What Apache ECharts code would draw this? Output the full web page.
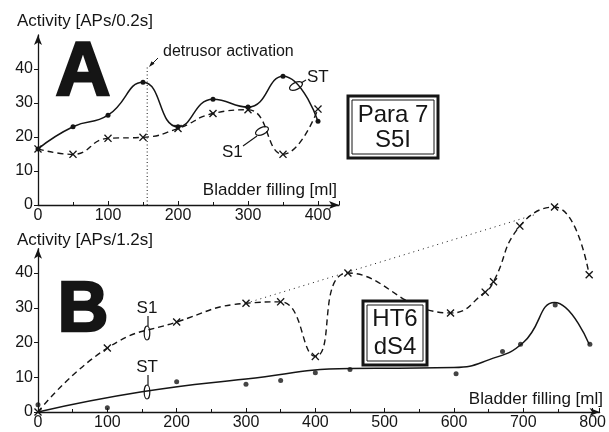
<!DOCTYPE html>
<html><head><meta charset="utf-8">
<script src="https://cdn.jsdelivr.net/npm/echarts@6/dist/echarts.min.js"></script>
<style>html,body{margin:0;padding:0;background:#fff}#c{width:609px;height:432px}</style>
</head><body><div id="c"></div>
<script>
// ---- Panel A data ----
var aFill = [0, 50, 100, 150, 200, 250, 300, 350, 400];
var aST   = [16.5, 23.0, 26.4, 36.1, 23.0, 31.1, 28.8, 37.9, 24.6];
var aS1   = [16.5, 14.9, 19.6, 19.9, 22.5, 26.9, 28.0, 14.9, 28.2];
var aDetrusorX = 156;
var aDetrusorTop = 41;
// ---- Panel B data ----
var bS1Fill = [0, 100, 200, 300, 350, 400, 447, 595, 645, 657, 695, 745, 795];
var bS1     = [0, 18.4, 25.9, 31.3, 31.7, 16.0, 40.0, 28.5, 34.5, 37.5, 53.5, 59.0, 39.5];
var bSTFill = [0, 100, 200, 300, 350, 400, 450, 603, 670, 696, 746, 796];
var bST     = [2.1, 1.2, 8.7, 8.0, 9.1, 11.3, 12.2, 11.0, 17.4, 19.5, 30.8, 19.5];
var bSTFitFill = [0, 150, 300, 450, 520, 600, 650, 700, 745, 795];
var bSTFit     = [0, 5.8, 9.5, 12.5, 12.6, 12.8, 15.0, 20.0, 31.5, 19.5];
var bTrendFill = [300, 720];
var bTrend     = [31.3, 57.0];
var xTicksA = [0, 100, 200, 300, 400];
var xTicksB = [0, 100, 200, 300, 400, 500, 600, 700, 800];
var yTicks = [0, 10, 20, 30, 40];

function pairs(xs, ys){ return xs.map(function(x,i){ return [x, ys[i]]; }); }

var INK = '#151515';
var FONT = 'Liberation Sans';
var cross = 'path://M0,1.2 L1.2,0 L5,3.8 L8.8,0 L10,1.2 L6.2,5 L10,8.8 L8.8,10 L5,6.2 L1.2,10 L0,8.8 L3.8,5Z';

function xAxisCfg(grid, max){
  return {
    type:'value', gridIndex:grid, min:0, max:max, interval:100,
    axisLine:{show:true, lineStyle:{color:INK, width:1.3}, symbol:['none','arrow'], symbolSize:[6,10]},
    axisTick:{show:true, inside:true, length:4, lineStyle:{color:INK}},
    minorTick:{show:true, splitNumber:2, length:3, lineStyle:{color:INK}},
    axisLabel:{color:INK, fontSize:16, fontFamily:FONT, margin:3, showMaxLabel:false,
      formatter:function(v){ return v % 100 === 0 ? String(v) : ''; }},
    splitLine:{show:false}
  };
}
function yAxisCfg(grid, max){
  return {
    type:'value', gridIndex:grid, min:0, max:max, interval:10,
    axisLine:{show:true, lineStyle:{color:INK, width:1.3}, symbol:['none','arrow'], symbolSize:[6,10]},
    axisTick:{show:true, length:4, lineStyle:{color:INK}},
    axisLabel:{color:INK, fontSize:16, fontFamily:FONT, margin:5, showMaxLabel:false,
      formatter:function(v){ return yTicks.indexOf(v) >= 0 ? String(v) : ''; }},
    splitLine:{show:false}
  };
}

var chart = echarts.init(document.getElementById('c'), null, {renderer:'canvas'});

function txt(x, y, s, size, opts){
  opts = opts || {};
  var st = {text:s, fill:INK, fontSize:size,
    fontFamily:opts.family || FONT, fontWeight:opts.weight || 'normal',
    align:opts.align || 'left', verticalAlign:opts.va || 'middle'};
  if (opts.stroke) { st.stroke = INK; st.lineWidth = opts.stroke; }
  return {type:'text', x:x, y:y, z:50, style:st};
}
function ln(x1,y1,x2,y2,w,dash){
  return {type:'line', z:50, shape:{x1:x1,y1:y1,x2:x2,y2:y2}, style:{stroke:INK, lineWidth:w||1, lineDash:dash||null}};
}
function ell(cx,cy,rx,ry,rot){
  return {type:'ellipse', z:50, x:cx, y:cy, rotation:rot||0, shape:{cx:0,cy:0,rx:rx,ry:ry}, style:{fill:'none', stroke:INK, lineWidth:1.2}};
}
function box(x,y,w,h,l1,l2,c1,c2){
  return [
    {type:'rect', z:40, shape:{x:x,y:y,width:w,height:h}, style:{fill:'#fff', stroke:INK, lineWidth:3}},
    {type:'rect', z:41, shape:{x:x+4,y:y+4,width:w-8,height:h-8}, style:{fill:'none', stroke:INK, lineWidth:1}},
    txt(x+w/2, c1, l1, 24, {align:'center'}),
    txt(x+w/2, c2, l2, 24, {align:'center'})
  ];
}

var graphics = [
  txt(17, 21, 'Activity [APs/0.2s]', 17),
  txt(17, 240, 'Activity [APs/1.2s]', 17),
  txt(337, 190, 'Bladder filling [ml]', 17, {align:'right'}),
  txt(603, 399, 'Bladder filling [ml]', 17, {align:'right'}),
  txt(83, 74, 'A', 76, {weight:'bold', align:'center', stroke:2.5}),
  txt(83, 312, 'B', 70, {weight:'bold', align:'center', stroke:2.5}),
  txt(163, 52, 'detrusor activation', 16),
  ln(158, 58, 152, 64, 1),
  {type:'polygon', z:50, shape:{points:[[149,67],[154.5,63.8],[151.5,61.2]]}, style:{fill:INK}},
  // Panel A labels
  txt(307, 77, 'ST', 17),
  ln(306, 80, 301, 83, 1.1),
  ell(296, 86, 7, 3.5, 0.45),
  txt(222, 152, 'S1', 17),
  ln(243, 146, 257, 136, 1.1),
  ell(262, 131, 7, 3.5, 0.45),
  // Panel B labels
  txt(147, 308, 'S1', 17, {align:'center'}),
  ln(148, 316, 148, 326, 1.2),
  ell(147, 333, 2.8, 7, 0),
  txt(147, 367, 'ST', 17, {align:'center'}),
  ln(148, 375, 148, 385, 1.2),
  ell(147, 392, 2.8, 7, 0)
].concat(box(348, 96, 90, 62, 'Para 7', 'S5I', 115, 140))
 .concat(box(363, 301, 64, 64, 'HT6', 'dS4', 319, 347));

var option = {
  animation:false,
  backgroundColor:'#fff',
  grid:[
    {left:38, top:35, width:301, height:170},
    {left:38, top:248.7, width:567, height:163.3}
  ],
  xAxis:[xAxisCfg(0, 430), xAxisCfg(1, 810)],
  yAxis:[yAxisCfg(0, 50), yAxisCfg(1, 47)],
  series:[
    {type:'line', xAxisIndex:0, yAxisIndex:0, data:pairs(aFill, aST), smooth:0.5,
      symbol:'circle', symbolSize:5, itemStyle:{color:INK}, lineStyle:{color:INK, width:1.5}, z:5},
    {type:'line', xAxisIndex:0, yAxisIndex:0, data:pairs(aFill, aS1), smooth:0.5,
      symbol:cross, symbolSize:8, itemStyle:{color:INK}, lineStyle:{color:INK, width:1.4, type:[6,4]}, z:6},
    {type:'line', xAxisIndex:0, yAxisIndex:0, data:[[aDetrusorX,0],[aDetrusorX,aDetrusorTop]],
      symbol:'none', lineStyle:{color:INK, width:1, type:[1,2.5]}},
    {type:'line', xAxisIndex:1, yAxisIndex:1, data:pairs(bS1Fill, bS1), smooth:0.5, clip:false,
      symbol:cross, symbolSize:8, itemStyle:{color:INK}, lineStyle:{color:INK, width:1.4, type:[6,4]}, z:6},
    {type:'line', xAxisIndex:1, yAxisIndex:1, data:pairs(bSTFitFill, bSTFit), smooth:0.5, clip:false,
      symbol:'none', lineStyle:{color:INK, width:1.5}, z:5},
    {type:'scatter', xAxisIndex:1, yAxisIndex:1, data:pairs(bSTFill, bST), symbol:'circle', symbolSize:5,
      itemStyle:{color:INK}, z:7},
    {type:'line', xAxisIndex:1, yAxisIndex:1, data:pairs(bTrendFill, bTrend), clip:false,
      symbol:'none', lineStyle:{color:INK, width:1, type:[1,4]}, z:4}
  ],
  graphic:graphics
};
chart.setOption(option);
</script>
</body></html>
